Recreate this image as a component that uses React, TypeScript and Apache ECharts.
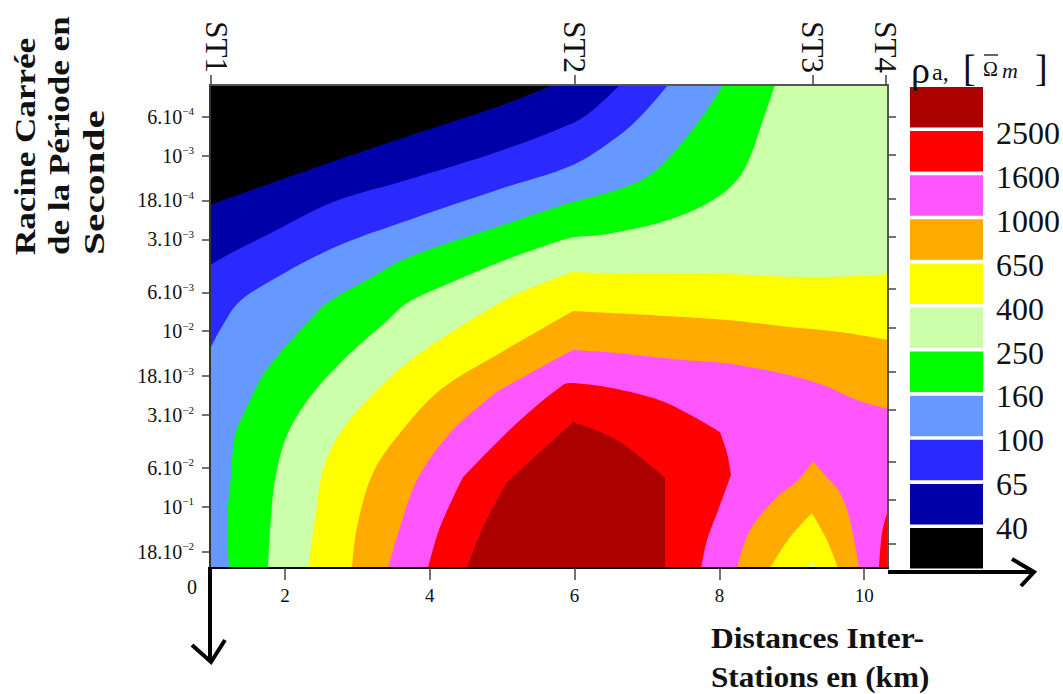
import React, { useEffect, useRef } from "react";
import * as echarts from "echarts";

// x = distance (km), y = log10 of the square root of the period
const xMin = 0.964;
const xMax = 10.329;
const yMin = -3.402;
const yMax = -0.652;

const xTicks = [2, 4, 6, 8, 10];
const stationNames = ["ST1", "ST2", "ST3", "ST4"];
const stationKm = [0.98, 6, 9.29, 10.3];
const periodTicks = [6e-4, 1e-3, 18e-4, 3e-3, 6e-3, 1e-2, 18e-3, 3e-2, 6e-2, 1e-1, 18e-2];
const periodBase = ["6.10", "10", "18.10", "3.10", "6.10", "10", "18.10", "3.10", "6.10", "10", "18.10"];
const periodExp = ["−4", "−3", "−4", "−3", "−3", "−2", "−3", "−2", "−2", "−1", "−2"];

const legendColors = ["#aa0000", "#ff0000", "#ff55ff", "#ffaa00", "#ffff00", "#ccffaa", "#00ff00", "#6699ff", "#2a2aff", "#0000a8", "#000000"];
const legendLabels = ["2500", "1600", "1000", "650", "400", "250", "160", "100", "65", "40"];

const blackNavy = [[xMin, -2.719], [2.207, -2.901], [3.588, -3.095], [4.97, -3.283], [5.702, -3.402]];
const navyBlue = [[xMin, -2.377], [1.282, -2.451], [1.751, -2.548], [2.663, -2.736], [3.588, -2.85], [4.97, -3.026], [5.978, -3.186], [6.254, -3.26], [6.627, -3.402]];
const blueLight = [[xMin, -1.899], [1.102, -2.007], [1.351, -2.161], [1.751, -2.275], [2.663, -2.474], [3.588, -2.616], [4.97, -2.81], [5.978, -2.947], [6.586, -3.106], [6.903, -3.22], [7.29, -3.402]];
const lightGreen = [[1.227, -0.652], [1.199, -0.925], [1.254, -1.17], [1.309, -1.409], [1.475, -1.568], [1.696, -1.751], [1.931, -1.876], [2.345, -2.064], [2.58, -2.161], [3.133, -2.292], [3.685, -2.417], [4.97, -2.599], [5.978, -2.736], [6.586, -2.804], [7.0, -2.878], [7.276, -2.975], [7.594, -3.129], [7.829, -3.26], [8.05, -3.402]];
const greenPale = [[1.765, -0.652], [1.793, -0.868], [1.862, -1.153], [2.028, -1.409], [2.345, -1.625], [2.801, -1.836], [3.423, -2.064], [3.685, -2.161], [4.279, -2.275], [4.97, -2.394], [5.425, -2.463], [5.936, -2.531], [6.351, -2.548], [6.945, -2.594], [7.414, -2.65], [7.912, -2.747], [8.243, -2.861], [8.423, -2.992], [8.602, -3.203], [8.768, -3.402]];
const paleYellow = [[2.318, -0.652], [2.414, -0.925], [2.525, -1.21], [2.76, -1.42], [3.174, -1.625], [3.685, -1.819], [4.279, -1.99], [5.039, -2.178], [5.425, -2.252], [5.964, -2.337], [6.351, -2.332], [8.05, -2.326], [9.113, -2.309], [9.942, -2.314], [xMax, -2.326]];
const yellowOrange = [[2.925, -0.652], [2.994, -0.885], [3.215, -1.193], [3.588, -1.42], [4.141, -1.665], [4.97, -1.876], [5.978, -2.115], [7.041, -2.092], [8.105, -2.064], [8.975, -2.024], [9.666, -1.996], [xMax, -1.95]];
const orangeMagenta = [[3.423, -0.652], [3.547, -0.828], [3.823, -1.153], [4.279, -1.42], [4.735, -1.591], [4.97, -1.665], [5.978, -1.893], [6.586, -1.876], [7.497, -1.836], [8.05, -1.819], [8.837, -1.762], [9.431, -1.694], [9.901, -1.608], [xMax, -1.557]];
const redBlob = [[3.975, -0.652], [4.141, -0.885], [4.459, -1.17], [5.204, -1.477], [5.84, -1.694], [5.978, -1.705], [6.586, -1.671], [7.276, -1.591], [8.008, -1.426], [8.105, -1.306], [8.16, -1.181], [7.967, -0.965], [7.829, -0.811], [7.746, -0.652]];
const darkRedBlob = [[4.514, -0.652], [4.735, -0.885], [5.066, -1.141], [5.978, -1.483], [6.586, -1.381], [7.249, -1.164]];
const redCorner = [[10.204, -0.652], [10.246, -0.851], [xMax, -0.982]];
const orangeIsland = [[8.243, -0.652], [8.423, -0.868], [8.796, -1.056], [9.086, -1.153], [9.293, -1.261], [9.431, -1.193], [9.666, -1.079], [9.804, -0.925], [9.928, -0.652]];
const yellowIsland = [[8.699, -0.652], [8.975, -0.828], [9.279, -0.965], [9.486, -0.811], [9.638, -0.652]];
const paleSpot = [[9.224, -0.652], [9.279, -0.686], [9.334, -0.652]];

const TR = [xMax, yMin];
const BR = [xMax, yMax];
const BL = [xMin, yMax];
const TL = [xMin, yMin];

// curve: read boundary; close: straight closing corners; sharp: km of real kinks in the contour
const layers: { color: string; curve: number[][]; close: number[][]; sharp?: number[] }[] = [
  { color: "#000000", curve: [TL, TR], close: [BR, BL] },
  { color: "#0000a8", curve: blackNavy, close: [TR, BR, BL] },
  { color: "#2a2aff", curve: navyBlue, close: [TR, BR, BL] },
  { color: "#6699ff", curve: blueLight, close: [TR, BR, BL] },
  { color: "#00ff00", curve: lightGreen, close: [TR, BR] },
  { color: "#ccffaa", curve: greenPale, close: [TR, BR] },
  { color: "#ffff00", curve: paleYellow, close: [BR], sharp: [5.964] },
  { color: "#ffaa00", curve: yellowOrange, close: [BR], sharp: [5.978] },
  { color: "#ff55ff", curve: orangeMagenta, close: [BR], sharp: [5.978] },
  { color: "#ff0000", curve: redBlob, close: [], sharp: [4.459, 8.008, 8.16] },
  { color: "#aa0000", curve: darkRedBlob, close: [[7.249, yMax]], sharp: [5.066, 5.978, 7.249] },
  { color: "#ff0000", curve: redCorner, close: [BR] },
  { color: "#ffaa00", curve: orangeIsland, close: [], sharp: [9.293] },
  { color: "#ffff00", curve: yellowIsland, close: [], sharp: [9.279] },
  { color: "#ccffaa", curve: paleSpot, close: [], sharp: [9.279] },
];

const SERIF = "'Liberation Serif', serif";
const logTicks = periodTicks.map((v) => Math.log10(v));

function serifText(text: string, x: number, y: number, size: number, extra: any = {}, styleExtra: any = {}) {
  return {
    type: "text",
    x,
    y,
    silent: true,
    ...extra,
    style: { text, fontFamily: SERIF, fontSize: size, fill: "#111", textAlign: "left", textVerticalAlign: "middle", ...styleExtra },
  };
}

function buildGraphic() {
  const items: any[] = [];
  legendColors.forEach((color, i) => {
    items.push({ type: "rect", silent: true, shape: { x: 910, y: 87 + i * 44.1, width: 73, height: 40.5 }, style: { fill: color } });
  });
  legendLabels.forEach((label, i) => {
    items.push(serifText(label, 996, 133 + i * 43.9, 32));
  });
  const bold = { fontWeight: "bold" };
  const rot = { rotation: Math.PI / 2 };
  items.push(serifText("Racine Carrée", 25, 255, 30, { ...rot, scaleX: 1.17 }, bold));
  items.push(serifText("de la Période en", 59, 255, 30, { ...rot, scaleX: 1.17 }, bold));
  items.push(serifText("Seconde", 94, 255, 30, { ...rot, scaleX: 1.38 }, bold));
  items.push(serifText("Distances Inter-", 711, 638, 30, { scaleX: 1.05 }, bold));
  items.push(serifText("Stations en (km)", 711, 677, 30, { scaleX: 1.04 }, bold));
  items.push(serifText("0", 187, 587, 20));
  items.push(serifText("ρ", 911, 70, 38));
  items.push(serifText("a,", 932, 72, 24));
  items.push(serifText("[", 963, 68, 38));
  items.push(serifText("Ω", 983, 69, 20));
  items.push(serifText("m", 1002, 70, 22, {}, { fontStyle: "italic" }));
  items.push(serifText("]", 1035, 68, 38));
  items.push({ type: "line", silent: true, shape: { x1: 984, y1: 55, x2: 998, y2: 55 }, style: { stroke: "#333", lineWidth: 1.5 } });
  const arrow = { stroke: "#000", lineWidth: 4, fill: "none" };
  items.push({ type: "line", silent: true, shape: { x1: 210, y1: 567, x2: 210, y2: 661 }, style: arrow });
  items.push({ type: "polyline", silent: true, shape: { points: [[192, 645], [211, 662], [225, 640]] }, style: arrow });
  items.push({ type: "line", silent: true, shape: { x1: 888, y1: 572, x2: 1033, y2: 572 }, style: arrow });
  items.push({ type: "polyline", silent: true, shape: { points: [[1012, 559], [1034, 572], [1021, 586]] }, style: arrow });
  return items;
}

// Rounds the drawn outline between the read points (pixel space), keeping real kinks sharp.
function roundOutline(pts: number[][], sharpFlags: boolean[]) {
  const n = pts.length;
  const tangent = (i: number) => {
    if (sharpFlags[i] || i === 0 || i === n - 1) return [0, 0];
    const dx = pts[i + 1][0] - pts[i - 1][0];
    const dy = pts[i + 1][1] - pts[i - 1][1];
    const len = Math.hypot(dx, dy) || 1;
    return [dx / len, dy / len];
  };
  const out: number[][] = [pts[0]];
  for (let i = 0; i < n - 1; i++) {
    const a = pts[i];
    const b = pts[i + 1];
    const d = Math.hypot(b[0] - a[0], b[1] - a[1]) / 3;
    const ta = tangent(i);
    const tb = tangent(i + 1);
    const c1 = [a[0] + ta[0] * d, a[1] + ta[1] * d];
    const c2 = [b[0] - tb[0] * d, b[1] - tb[1] * d];
    for (let k = 1; k <= 8; k++) {
      const t = k / 8;
      const u = 1 - t;
      out.push([
        u * u * u * a[0] + 3 * u * u * t * c1[0] + 3 * u * t * t * c2[0] + t * t * t * b[0],
        u * u * u * a[1] + 3 * u * u * t * c1[1] + 3 * u * t * t * c2[1] + t * t * t * b[1],
      ]);
    }
  }
  return out;
}

function renderLayer(params: any, api: any) {
  const layer = layers[params.dataIndex];
  const px = layer.curve.map((p) => api.coord(p));
  const flags = layer.curve.map((p) => (layer.sharp ?? []).includes(p[0]));
  const points = [...roundOutline(px, flags), ...layer.close.map((p) => api.coord(p))];
  return {
    type: "polygon",
    silent: true,
    shape: { points },
    style: { fill: layer.color, stroke: null },
  };
}

export default function App() {
  const ref = useRef<HTMLDivElement>(null);
  useEffect(() => {
    const chart = echarts.init(ref.current!, undefined, { renderer: "svg" });
    chart.setOption({
      animation: false,
      backgroundColor: "#fff",
      grid: { left: 210, right: 175, top: 85, bottom: 126 },
      xAxis: [
        {
          type: "value",
          position: "bottom",
          min: xMin,
          max: xMax,
          z: 5,
          splitLine: { show: false },
          axisLine: { show: true, lineStyle: { color: "#000", width: 2 } },
          axisTick: { show: true, length: 12, customValues: xTicks, lineStyle: { color: "#444", width: 1.5 } },
          axisLabel: { show: true, margin: 18, fontFamily: SERIF, fontSize: 19, color: "#111", customValues: xTicks },
        },
        {
          type: "value",
          position: "top",
          min: xMin,
          max: xMax,
          z: 5,
          splitLine: { show: false },
          axisLine: { show: true, lineStyle: { color: "#555", width: 2 } },
          axisTick: { show: true, length: 10, customValues: stationKm, lineStyle: { color: "#444", width: 1.5 } },
          axisLabel: {
            show: true,
            rotate: 90,
            margin: 12,
            fontFamily: SERIF,
            fontSize: 31,
            color: "#111",
            customValues: stationKm,
            formatter: (v: number) => {
              const name = stationNames[stationKm.indexOf(v)] ?? "";
              return name === "ST1" ? `{first|${name}}` : name;
            },
            rich: { first: { fontFamily: SERIF, fontSize: 31, color: "#111", padding: [0, 0, 10, 0] } },
          },
        },
      ],
      yAxis: [
        {
          type: "value",
          position: "left",
          inverse: true,
          min: yMin,
          max: yMax,
          z: 5,
          splitLine: { show: false },
          axisLine: { show: true, onZero: false, lineStyle: { color: "#333", width: 2 } },
          axisTick: { show: true, length: 8, customValues: logTicks, lineStyle: { color: "#444", width: 1.5 } },
          axisLabel: {
            show: true,
            margin: 16,
            customValues: logTicks,
            formatter: (v: number) => {
              const i = logTicks.indexOf(v);
              return i < 0 ? "" : `{b|${periodBase[i]}}{s|${periodExp[i]}}`;
            },
            rich: {
              b: { fontFamily: SERIF, fontSize: 20, color: "#111", lineHeight: 22 },
              s: { fontFamily: SERIF, fontSize: 11, color: "#111", lineHeight: 22, verticalAlign: "top" },
            },
          },
        },
        {
          type: "value",
          position: "right",
          inverse: true,
          min: -3.4055,
          max: -0.605,
          z: 5,
          splitLine: { show: false },
          axisLine: { show: true, onZero: false, lineStyle: { color: "#555", width: 2 } },
          axisTick: { show: true, length: 8, customValues: logTicks, lineStyle: { color: "#444", width: 1.5 } },
          axisLabel: { show: false },
        },
      ],
      series: [
        {
          type: "custom",
          coordinateSystem: "cartesian2d",
          xAxisIndex: 0,
          yAxisIndex: 0,
          silent: true,
          clip: true,
          renderItem: renderLayer,
          encode: { x: 0, y: 1 },
          data: layers.map((l) => l.curve[0]),
        },
      ],
      graphic: { elements: buildGraphic() },
    });
    return () => chart.dispose();
  }, []);
  return <div ref={ref} style={{ position: "absolute", left: 0, top: 0, width: 1063, height: 694 }} />;
}
